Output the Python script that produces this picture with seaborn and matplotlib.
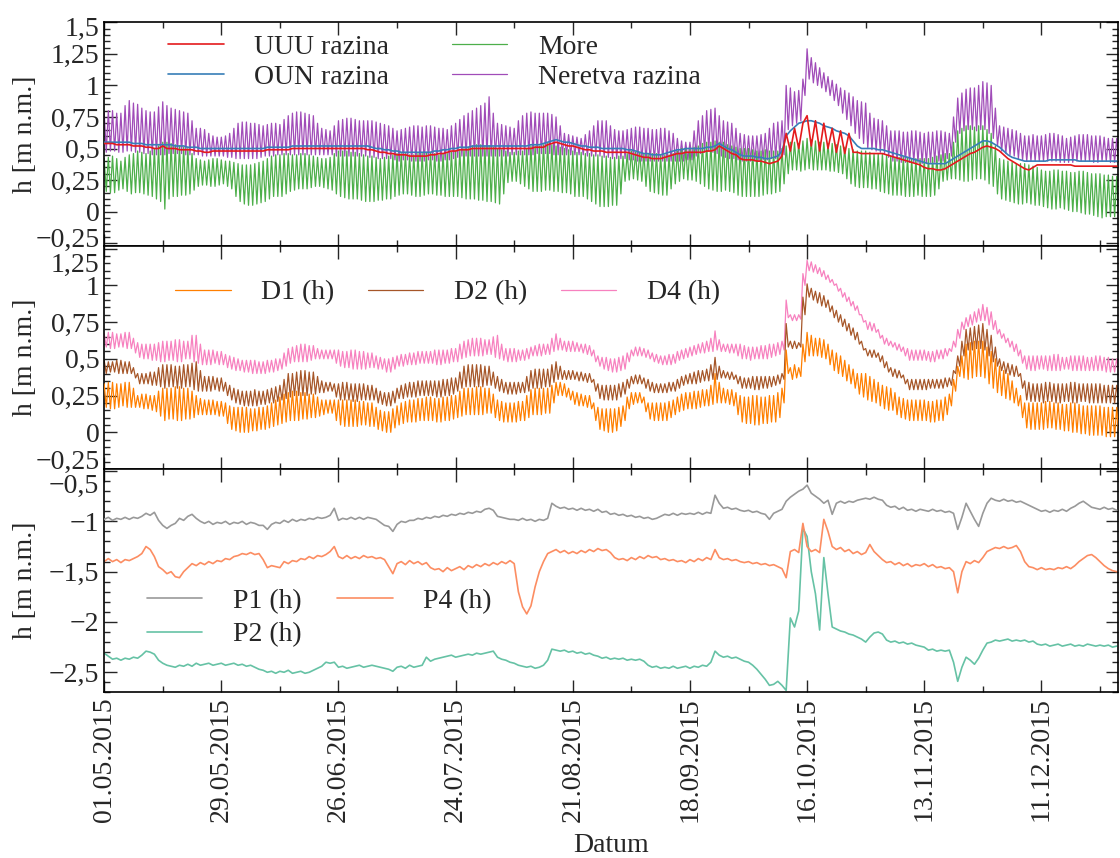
import seaborn as sns
import matplotlib.pyplot as plt
import matplotlib.dates as mdates
import matplotlib.ticker as mticker
from matplotlib.transforms import ScaledTranslation
import pandas as pd

# Vrijednosti u cm, ocitano s grafa, pocetak 01.05.2015.
# uuu, oun, p1, p2, p4: jedna vrijednost dnevno
# more, neretva, d1, d2, d4: vrh/dol svakih 12 h
start = '2015-05-01'

# Gornji graf - razine
uuu = [54, 54, 54, 53, 53, 53, 53, 52, 52, 52, 51, 51, 50, 50,
       52, 50, 50, 50, 49, 49, 49, 49, 48, 48, 47, 47, 48, 48,
       48, 48, 48, 48, 48, 48, 48, 48, 48, 48, 48, 49, 49, 49,
       49, 49, 49, 50, 50, 50, 50, 50, 50, 50, 50, 50, 50, 50,
       50, 50, 50, 50, 50, 50, 50, 49, 49, 48, 47, 47, 46, 46,
       45, 45, 45, 44, 44, 44, 44, 44, 45, 45, 46, 46, 47, 48,
       48, 49, 49, 49, 50, 50, 50, 50, 50, 50, 50, 50, 50, 50,
       50, 50, 50, 50, 50, 51, 51, 51, 53, 54, 55, 54, 53, 52,
       52, 51, 50, 49, 49, 48, 48, 48, 47, 47, 47, 47, 47, 47,
       46, 45, 44, 43, 43, 42, 42, 42, 43, 44, 45, 46, 46, 47,
       47, 47, 47, 47, 48, 48, 49, 52, 50, 48, 46, 45, 42, 41,
       41, 41, 40, 40, 39, 38, 39, 40, 44, 62, 48, 66, 50, 70,
       76, 52, 72, 48, 70, 50, 66, 47, 64, 46, 62, 47, 47, 46,
       46, 46, 46, 46, 46, 45, 44, 43, 42, 41, 40, 39, 38, 37,
       35, 34, 34, 33, 33, 34, 36, 38, 40, 42, 44, 46, 47, 49,
       51, 52, 51, 50, 48, 45, 42, 40, 38, 36, 34, 33, 35, 37,
       37, 37, 37, 37, 37, 37, 37, 37, 36, 36, 36, 36, 36, 36,
       36, 36, 36, 36, 36]
oun = [55, 55, 55, 55, 55, 55, 55, 54, 54, 54, 53, 53, 53, 53,
       53, 53, 53, 52, 52, 52, 51, 51, 51, 50, 50, 50, 50, 50,
       50, 50, 50, 50, 50, 50, 50, 50, 50, 50, 50, 51, 51, 51,
       51, 51, 51, 52, 52, 52, 52, 52, 52, 52, 52, 52, 52, 52,
       52, 52, 52, 52, 52, 52, 52, 52, 51, 50, 50, 49, 49, 48,
       48, 47, 47, 47, 47, 47, 47, 47, 47, 48, 48, 49, 49, 50,
       50, 51, 51, 51, 52, 52, 52, 52, 52, 52, 52, 52, 52, 52,
       52, 52, 52, 52, 53, 53, 53, 54, 55, 56, 57, 56, 55, 55,
       54, 53, 52, 52, 51, 51, 51, 50, 50, 50, 50, 50, 50, 49,
       49, 48, 47, 46, 46, 45, 45, 45, 46, 47, 48, 49, 49, 50,
       50, 50, 50, 50, 51, 51, 52, 54, 52, 50, 49, 47, 45, 44,
       44, 44, 43, 43, 42, 42, 43, 44, 48, 60, 64, 67, 70, 71,
       72, 72, 71, 70, 68, 67, 66, 64, 63, 62, 60, 56, 52, 50,
       50, 50, 50, 49, 49, 48, 47, 46, 45, 44, 43, 42, 41, 40,
       39, 38, 38, 38, 38, 38, 40, 42, 44, 46, 48, 50, 52, 54,
       56, 56, 55, 53, 51, 48, 45, 43, 42, 41, 40, 40, 40, 40,
       40, 40, 41, 41, 41, 41, 41, 41, 41, 40, 40, 40, 40, 40,
       40, 40, 40, 40, 40]
more = [42, 16, 43, 15, 44, 15, 42, 17, 40, 18, 43, 16, 45, 14, 46, 15, 48, 15, 47, 14, 46, 13, 48, 12, 50, 10, 52, 8,
        55, 2, 55, 10, 54, 12, 53, 12, 52, 13, 51, 13, 50, 14, 46, 17, 42, 20, 41, 21, 40, 21, 41, 20, 42, 20, 42, 21,
        41, 22, 40, 20, 40, 18, 39, 12, 38, 8, 37, 6, 37, 5, 37, 5, 38, 6, 39, 7, 40, 8, 42, 10, 44, 12, 45, 12,
        45, 12, 46, 14, 46, 16, 45, 17, 45, 18, 46, 18, 46, 18, 45, 19, 44, 20, 43, 20, 42, 19, 42, 18, 43, 17, 46, 14,
        48, 12, 48, 11, 48, 10, 47, 10, 47, 10, 46, 9, 45, 8, 44, 8, 44, 8, 43, 9, 42, 9, 43, 10, 44, 10, 45, 12,
        46, 13, 46, 14, 46, 14, 45, 13, 45, 12, 46, 12, 46, 13, 47, 14, 47, 14, 46, 13, 45, 13, 46, 12, 46, 12, 47, 12,
        48, 12, 49, 11, 50, 10, 51, 10, 52, 10, 53, 9, 53, 9, 52, 8, 52, 8, 51, 7, 50, 6, 49, 14, 48, 23, 47, 24,
        47, 24, 48, 22, 48, 20, 50, 18, 52, 16, 52, 16, 52, 16, 53, 17, 54, 17, 53, 16, 52, 16, 51, 15, 50, 15, 49, 14,
        48, 12, 47, 12, 47, 12, 46, 10, 46, 8, 45, 6, 45, 4, 44, 4, 44, 4, 43, 5, 43, 5, 44, 14, 44, 24, 46, 25,
        48, 26, 47, 25, 47, 24, 46, 20, 46, 16, 46, 15, 46, 14, 45, 13, 45, 13, 45, 18, 46, 22, 48, 24, 50, 26, 50, 25,
        50, 25, 51, 24, 52, 22, 54, 20, 55, 18, 55, 17, 56, 16, 55, 16, 55, 17, 53, 16, 52, 15, 51, 13, 50, 12, 50, 12,
        50, 12, 49, 12, 48, 12, 48, 13, 49, 14, 48, 14, 48, 15, 48, 16, 50, 22, 52, 30, 55, 33, 55, 33, 54, 32, 56, 33,
        58, 34, 57, 33, 56, 33, 55, 33, 55, 33, 54, 32, 54, 32, 53, 31, 52, 30, 51, 26, 50, 22, 49, 20, 48, 19, 48, 19,
        48, 19, 47, 18, 46, 18, 46, 16, 46, 15, 45, 14, 44, 13, 43, 13, 43, 13, 43, 12, 43, 12, 42, 12, 42, 13, 42, 12,
        42, 12, 42, 12, 43, 13, 44, 18, 45, 24, 46, 25, 46, 26, 55, 26, 64, 25, 66, 24, 68, 24, 68, 25, 67, 26, 68, 26,
        68, 25, 65, 22, 62, 20, 52, 14, 42, 10, 41, 9, 40, 8, 39, 7, 38, 6, 38, 6, 38, 7, 37, 6, 36, 5, 35, 5,
        33, 4, 32, 3, 32, 2, 33, 2, 33, 3, 32, 2, 32, 1, 31, 0, 31, 0, 32, -1, 32, -2, 31, -2, 30, -3, 30, -4,
        30, -5, 29, -4, 29, -4, 28, -4, 28, -5]
neretva = [79, 47, 80, 48, 80, 48, 78, 47, 78, 47, 84, 48, 88, 48, 86, 47, 85, 47, 82, 46, 80, 46, 79, 45, 79, 45, 83, 45,
           87, 45, 84, 46, 82, 46, 81, 46, 80, 46, 79, 45, 78, 45, 72, 45, 66, 45, 66, 44, 65, 44, 62, 44, 60, 44, 59, 44,
           59, 44, 60, 43, 62, 43, 66, 42, 70, 42, 71, 42, 71, 42, 70, 42, 70, 42, 69, 43, 68, 44, 69, 44, 70, 44, 70, 45,
           69, 45, 73, 45, 76, 45, 78, 45, 79, 45, 79, 45, 78, 45, 77, 45, 76, 45, 70, 45, 66, 45, 65, 45, 64, 45, 68, 44,
           72, 44, 73, 44, 74, 44, 74, 44, 73, 44, 72, 44, 72, 44, 72, 43, 72, 43, 71, 42, 70, 42, 69, 42, 68, 42, 66, 41,
           64, 40, 65, 41, 66, 41, 67, 40, 68, 40, 68, 40, 67, 40, 68, 41, 68, 41, 67, 40, 66, 40, 66, 41, 65, 41, 68, 42,
           70, 43, 73, 44, 76, 44, 78, 44, 80, 44, 82, 44, 84, 44, 86, 44, 91, 44, 78, 44, 70, 44, 69, 44, 68, 44, 67, 45,
           66, 45, 72, 45, 76, 45, 78, 45, 79, 45, 78, 46, 78, 46, 78, 46, 78, 46, 77, 45, 75, 45, 68, 45, 62, 45, 61, 45,
           60, 45, 59, 45, 58, 45, 61, 44, 64, 44, 68, 44, 72, 44, 72, 43, 72, 43, 68, 42, 65, 42, 64, 42, 64, 42, 65, 41,
           66, 41, 67, 40, 67, 40, 66, 40, 66, 40, 65, 40, 65, 40, 66, 40, 66, 40, 64, 40, 62, 40, 58, 40, 56, 40, 55, 41,
           55, 41, 64, 44, 72, 46, 76, 47, 80, 48, 81, 47, 82, 46, 76, 44, 72, 43, 71, 42, 70, 42, 66, 41, 62, 40, 61, 40,
           60, 40, 60, 40, 60, 40, 61, 41, 62, 41, 66, 42, 70, 42, 71, 43, 72, 45, 100, 65, 98, 68, 95, 70, 96, 72, 105, 92,
           129, 105, 122, 102, 118, 100, 114, 98, 110, 95, 107, 92, 104, 88, 101, 84, 98, 78, 96, 73, 94, 68, 91, 62, 88, 58, 87, 54,
           86, 50, 78, 49, 74, 48, 73, 47, 72, 46, 68, 43, 64, 40, 64, 40, 64, 39, 63, 39, 63, 39, 64, 39, 64, 39, 63, 38,
           62, 38, 63, 39, 63, 39, 64, 40, 64, 40, 63, 42, 62, 44, 75, 55, 90, 62, 94, 64, 97, 65, 98, 65, 98, 64, 100, 65,
           103, 65, 102, 62, 100, 58, 82, 52, 68, 48, 67, 46, 66, 45, 65, 44, 64, 42, 62, 41, 60, 40, 60, 40, 61, 40, 60, 40,
           60, 40, 61, 40, 62, 40, 62, 40, 61, 39, 60, 39, 58, 39, 59, 39, 60, 40, 61, 40, 61, 40, 61, 40, 60, 39, 60, 39,
           60, 40, 59, 40, 58, 39, 58, 39, 58, 39]

# Srednji graf - D piezometri
d1 = [33, 17, 34, 16, 34, 16, 33, 17, 33, 18, 34, 17, 34, 17, 30, 17, 25, 17, 26, 16, 26, 16, 25, 15, 25, 14, 28, 11,
      30, 8, 30, 9, 30, 9, 31, 8, 31, 8, 30, 9, 30, 9, 28, 10, 25, 12, 23, 12, 22, 12, 22, 12, 22, 12, 21, 11,
      21, 11, 20, 6, 18, 2, 17, 1, 17, 0, 17, 0, 17, 0, 16, 1, 16, 1, 17, 2, 17, 2, 18, 3, 20, 4, 22, 5,
      24, 6, 26, 7, 27, 8, 28, 8, 28, 8, 27, 9, 27, 9, 26, 10, 26, 10, 24, 11, 22, 12, 22, 13, 22, 13, 22, 8,
      22, 5, 22, 4, 22, 4, 22, 4, 22, 4, 21, 5, 21, 5, 20, 4, 20, 4, 17, 2, 15, 1, 14, 0, 14, 0, 16, 3,
      18, 5, 20, 6, 21, 7, 22, 7, 22, 7, 23, 8, 23, 8, 24, 8, 24, 8, 23, 7, 23, 7, 24, 8, 24, 8, 25, 9,
      25, 10, 28, 11, 30, 12, 30, 12, 30, 12, 31, 12, 31, 12, 30, 13, 30, 13, 26, 10, 22, 8, 21, 7, 20, 7, 20, 7,
      20, 7, 21, 8, 21, 8, 25, 10, 29, 12, 30, 12, 30, 12, 30, 13, 30, 13, 32, 20, 34, 25, 34, 25, 33, 24, 30, 22,
      28, 19, 27, 18, 26, 18, 25, 17, 25, 16, 20, 8, 17, 2, 16, 1, 16, 0, 16, 0, 16, 1, 17, 4, 18, 8, 24, 16,
      27, 19, 27, 20, 27, 20, 24, 14, 20, 9, 20, 8, 20, 8, 20, 8, 20, 8, 21, 10, 22, 12, 24, 14, 26, 15, 27, 16,
      27, 16, 28, 16, 28, 17, 29, 18, 29, 18, 32, 19, 40, 20, 34, 20, 30, 20, 29, 19, 29, 18, 27, 12, 25, 7, 24, 6,
      24, 6, 25, 5, 25, 5, 24, 6, 24, 6, 25, 7, 25, 7, 27, 10, 30, 20, 56, 40, 44, 36, 46, 37, 44, 38, 60, 48,
      68, 52, 66, 52, 64, 52, 64, 51, 63, 50, 60, 46, 56, 42, 54, 40, 52, 38, 49, 35, 46, 33, 43, 30, 40, 26, 40, 24,
      40, 22, 38, 21, 36, 20, 34, 18, 32, 16, 31, 15, 30, 15, 27, 12, 24, 10, 23, 9, 22, 8, 22, 8, 22, 8, 22, 8,
      22, 8, 21, 7, 21, 7, 22, 8, 22, 8, 24, 12, 26, 18, 36, 28, 45, 38, 52, 37, 60, 36, 61, 37, 62, 38, 62, 38,
      62, 37, 58, 33, 55, 30, 50, 27, 45, 25, 42, 23, 40, 22, 35, 20, 30, 18, 25, 10, 20, 3, 20, 2, 20, 2, 20, 2,
      20, 2, 21, 3, 21, 3, 20, 2, 20, 2, 19, 1, 19, 1, 20, 0, 20, 0, 19, -1, 18, -1, 18, -2, 18, -2, 18, -2,
      18, -2, 17, -3, 17, -3, 17, -3, 17, -2]
d2 = [49, 40, 48, 41, 48, 41, 49, 40, 49, 40, 48, 40, 48, 40, 44, 37, 40, 33, 40, 33, 40, 33, 41, 32, 41, 32, 44, 31,
      46, 30, 46, 31, 46, 31, 45, 30, 45, 30, 46, 31, 46, 31, 47, 29, 48, 28, 42, 28, 38, 28, 38, 28, 38, 29, 37, 28,
      37, 28, 34, 25, 32, 22, 30, 20, 29, 19, 28, 18, 28, 18, 28, 18, 29, 18, 28, 19, 28, 19, 29, 20, 30, 20, 31, 21,
      32, 22, 36, 23, 40, 24, 40, 25, 41, 25, 42, 25, 42, 25, 41, 26, 41, 26, 38, 27, 35, 27, 34, 28, 34, 28, 33, 24,
      33, 22, 34, 22, 34, 22, 33, 21, 33, 21, 33, 22, 33, 22, 32, 22, 32, 22, 30, 20, 28, 19, 27, 18, 27, 18, 28, 20,
      30, 23, 32, 23, 33, 24, 34, 24, 34, 24, 35, 25, 35, 25, 35, 25, 35, 25, 35, 24, 35, 24, 36, 25, 36, 25, 37, 26,
      37, 28, 41, 30, 45, 31, 46, 31, 46, 31, 46, 31, 46, 31, 45, 32, 45, 32, 41, 30, 38, 28, 36, 27, 34, 26, 34, 26,
      34, 26, 34, 27, 34, 27, 38, 28, 42, 30, 43, 30, 43, 30, 43, 31, 43, 31, 46, 34, 48, 36, 45, 36, 42, 36, 42, 36,
      42, 36, 41, 35, 41, 35, 40, 34, 40, 34, 36, 28, 33, 23, 32, 22, 32, 22, 32, 22, 32, 22, 33, 24, 34, 26, 36, 30,
      38, 33, 39, 33, 39, 33, 37, 30, 36, 28, 34, 27, 33, 27, 33, 27, 33, 27, 34, 28, 34, 28, 36, 30, 38, 32, 39, 33,
      40, 33, 41, 33, 42, 34, 42, 35, 43, 35, 46, 36, 51, 36, 45, 37, 42, 37, 41, 36, 41, 36, 39, 33, 38, 30, 37, 30,
      37, 30, 38, 29, 38, 29, 38, 30, 38, 30, 38, 31, 38, 32, 39, 33, 40, 36, 74, 58, 62, 57, 62, 57, 61, 58, 92, 80,
      101, 92, 98, 90, 96, 88, 95, 86, 93, 85, 90, 82, 86, 78, 83, 75, 80, 72, 77, 69, 74, 66, 71, 63, 68, 60, 62, 56,
      57, 52, 56, 51, 56, 51, 54, 48, 52, 44, 48, 41, 44, 38, 43, 37, 42, 37, 39, 33, 36, 29, 36, 29, 36, 29, 36, 29,
      36, 29, 36, 30, 36, 30, 36, 30, 36, 30, 37, 31, 37, 32, 42, 40, 52, 45, 62, 52, 70, 56, 71, 56, 72, 57, 73, 57,
      74, 56, 70, 52, 66, 48, 58, 45, 50, 42, 48, 40, 47, 39, 46, 38, 45, 38, 40, 30, 35, 22, 34, 21, 33, 21, 33, 21,
      33, 20, 34, 21, 34, 21, 33, 20, 33, 20, 33, 21, 33, 21, 34, 20, 34, 20, 33, 21, 33, 21, 33, 20, 33, 20, 33, 20,
      33, 20, 32, 20, 32, 20, 32, 20, 32, 20]
d4 = [67, 58, 68, 57, 68, 57, 67, 58, 67, 58, 68, 57, 68, 57, 64, 54, 61, 51, 60, 50, 60, 50, 60, 49, 60, 49, 61, 48,
      62, 48, 62, 49, 62, 49, 63, 48, 63, 48, 62, 50, 62, 50, 66, 48, 66, 47, 60, 46, 56, 46, 56, 46, 56, 47, 55, 46,
      55, 46, 53, 44, 52, 43, 51, 42, 50, 42, 49, 41, 49, 41, 49, 40, 49, 40, 48, 40, 48, 40, 49, 41, 49, 41, 50, 42,
      50, 43, 54, 45, 57, 47, 58, 48, 59, 48, 60, 48, 60, 48, 59, 49, 59, 50, 57, 50, 56, 50, 56, 50, 56, 50, 56, 47,
      56, 45, 55, 44, 55, 44, 56, 43, 56, 43, 55, 43, 55, 43, 54, 44, 54, 44, 52, 43, 51, 43, 50, 41, 50, 41, 51, 43,
      52, 45, 53, 45, 53, 46, 54, 46, 54, 46, 55, 47, 55, 47, 55, 47, 55, 47, 56, 46, 56, 46, 56, 47, 56, 47, 57, 48,
      57, 48, 60, 50, 62, 51, 63, 52, 64, 52, 64, 52, 64, 52, 63, 53, 63, 53, 65, 51, 66, 50, 60, 49, 57, 48, 57, 48,
      57, 48, 56, 49, 56, 49, 57, 50, 58, 52, 59, 52, 60, 52, 60, 53, 60, 53, 64, 55, 67, 56, 64, 56, 62, 55, 62, 55,
      62, 55, 61, 55, 60, 54, 60, 53, 59, 52, 56, 48, 52, 45, 51, 43, 51, 42, 50, 41, 50, 41, 51, 42, 52, 43, 54, 48,
      56, 52, 58, 52, 58, 52, 57, 51, 56, 50, 54, 48, 53, 47, 52, 46, 52, 46, 53, 46, 53, 47, 55, 49, 56, 50, 57, 51,
      58, 52, 59, 53, 60, 54, 61, 54, 62, 55, 64, 55, 69, 56, 63, 55, 60, 55, 60, 54, 60, 54, 60, 52, 60, 50, 59, 50,
      58, 49, 58, 50, 58, 50, 59, 50, 59, 50, 60, 51, 60, 52, 61, 53, 62, 56, 90, 78, 80, 76, 80, 76, 80, 77, 108, 100,
      117, 110, 116, 109, 114, 108, 112, 106, 110, 104, 107, 102, 104, 100, 101, 96, 98, 92, 95, 89, 92, 86, 89, 83, 86, 80, 80, 75,
      76, 70, 75, 69, 74, 68, 70, 64, 66, 60, 64, 59, 62, 58, 61, 56, 60, 55, 58, 52, 57, 49, 56, 49, 56, 49, 56, 49,
      56, 49, 55, 48, 55, 48, 56, 50, 56, 50, 57, 52, 57, 55, 62, 58, 70, 64, 75, 70, 78, 72, 80, 73, 82, 75, 84, 76,
      87, 76, 85, 73, 82, 70, 76, 67, 70, 64, 67, 61, 64, 58, 62, 55, 60, 52, 56, 47, 52, 43, 52, 42, 52, 42, 52, 43,
      52, 43, 52, 42, 52, 42, 53, 42, 53, 42, 51, 43, 51, 43, 52, 42, 52, 42, 52, 42, 52, 42, 51, 42, 51, 42, 52, 42,
      52, 42, 51, 41, 51, 41, 50, 41, 50, 42]

# Donji graf - P piezometri
p1 = [-98, -96, -99, -97, -98, -96, -98, -96, -97, -95, -92, -94, -91, -99,
      -104, -107, -104, -102, -97, -99, -95, -93, -97, -100, -102, -100, -103, -101,
      -102, -100, -103, -101, -102, -100, -103, -101, -102, -104, -104, -108, -103, -101,
      -102, -99, -101, -98, -100, -98, -99, -97, -98, -96, -97, -96, -94, -87,
      -99, -97, -98, -96, -98, -96, -98, -96, -97, -98, -101, -104, -105, -110,
      -103, -100, -101, -99, -99, -97, -98, -96, -97, -95, -96, -94, -95, -93,
      -94, -92, -93, -91, -92, -90, -91, -88, -87, -89, -95, -96, -97, -98,
      -98, -99, -97, -99, -98, -100, -98, -99, -97, -82, -85, -87, -86, -88,
      -87, -89, -87, -89, -88, -90, -88, -91, -90, -93, -92, -94, -93, -95,
      -94, -96, -95, -97, -96, -98, -97, -95, -93, -94, -92, -94, -92, -93,
      -92, -93, -91, -93, -91, -92, -74, -82, -87, -86, -88, -87, -89, -90,
      -89, -91, -90, -92, -93, -98, -92, -90, -88, -80, -76, -73, -70, -68,
      -64, -72, -75, -78, -82, -79, -93, -82, -80, -82, -80, -81, -79, -78,
      -77, -78, -76, -78, -79, -84, -86, -85, -88, -86, -89, -88, -90, -88,
      -89, -90, -88, -90, -89, -91, -90, -92, -108, -96, -82, -90, -98, -105,
      -92, -82, -77, -79, -80, -78, -80, -79, -81, -80, -82, -84, -86, -88,
      -90, -89, -91, -89, -90, -88, -90, -87, -85, -82, -80, -83, -86, -87,
      -88, -86, -88, -87, -89]
p2 = [-231, -234, -237, -236, -238, -236, -237, -235, -236, -233, -229, -230, -232, -238,
      -241, -243, -244, -245, -243, -244, -242, -244, -241, -243, -242, -241, -243, -242,
      -241, -243, -242, -241, -243, -242, -244, -243, -245, -247, -248, -250, -249, -251,
      -249, -250, -248, -251, -250, -249, -251, -250, -248, -246, -244, -240, -241, -240,
      -245, -244, -246, -245, -244, -243, -245, -244, -243, -244, -245, -246, -247, -249,
      -245, -244, -246, -243, -245, -244, -243, -235, -239, -237, -236, -235, -234, -233,
      -235, -234, -233, -232, -233, -231, -232, -231, -230, -229, -235, -237, -238, -240,
      -241, -243, -244, -245, -244, -246, -245, -243, -238, -227, -228, -229, -228, -230,
      -229, -231, -230, -232, -231, -233, -234, -236, -235, -237, -236, -237, -236, -238,
      -237, -238, -237, -239, -243, -245, -244, -246, -245, -246, -244, -246, -245, -244,
      -246, -244, -245, -243, -244, -240, -229, -233, -235, -234, -236, -235, -237, -239,
      -240, -243, -247, -252, -257, -263, -262, -259, -263, -268, -196, -205, -189, -107,
      -115, -150, -172, -208, -136, -172, -205, -207, -209, -210, -212, -213, -215, -217,
      -220, -215, -211, -210, -212, -218, -220, -219, -221, -220, -222, -221, -223, -224,
      -225, -228, -227, -229, -228, -229, -228, -240, -259, -245, -235, -238, -242, -236,
      -228, -221, -220, -218, -219, -218, -217, -219, -218, -219, -218, -220, -219, -222,
      -223, -222, -224, -223, -222, -224, -223, -222, -224, -223, -224, -222, -223, -224,
      -223, -224, -223, -225, -224]
p4 = [-140, -137, -140, -138, -141, -138, -139, -137, -135, -132, -125, -128, -135, -145,
      -148, -152, -150, -155, -156, -150, -146, -142, -144, -141, -143, -140, -142, -139,
      -140, -137, -138, -135, -134, -132, -133, -131, -133, -132, -138, -146, -144, -145,
      -146, -140, -142, -139, -140, -137, -138, -135, -137, -134, -135, -133, -130, -125,
      -135, -137, -134, -137, -135, -137, -134, -136, -135, -137, -136, -138, -145, -152,
      -142, -140, -143, -139, -142, -140, -143, -141, -146, -148, -147, -150, -146, -149,
      -147, -145, -148, -144, -146, -143, -145, -142, -144, -141, -143, -140, -142, -139,
      -142, -170, -185, -192, -184, -165, -150, -140, -132, -130, -128, -131, -129, -132,
      -130, -132, -129, -131, -128, -130, -127, -129, -128, -131, -136, -138, -137, -139,
      -136, -138, -135, -137, -134, -136, -135, -138, -137, -139, -138, -140, -139, -141,
      -138, -140, -137, -139, -136, -138, -128, -136, -138, -137, -139, -138, -140, -141,
      -140, -142, -141, -143, -142, -144, -143, -145, -147, -156, -130, -128, -131, -102,
      -125, -130, -128, -131, -98, -110, -125, -128, -126, -130, -128, -132, -130, -133,
      -131, -123, -130, -134, -138, -141, -140, -143, -141, -144, -142, -145, -143, -144,
      -142, -145, -143, -146, -145, -147, -146, -150, -171, -150, -140, -142, -139, -141,
      -136, -130, -128, -126, -127, -125, -127, -126, -124, -130, -140, -145, -146, -148,
      -146, -148, -147, -148, -146, -147, -145, -147, -144, -140, -137, -134, -133, -136,
      -140, -144, -147, -149, -150]

tick_dates = pd.date_range(start, periods=9, freq='28D')
minor_dates = pd.date_range(start, periods=18, freq='14D')


def vrijeme(v, korak='D'):
    return pd.date_range(start, periods=len(v), freq=korak)


def metri(v):
    return [x / 100 for x in v]


def zarez(v, pos):
    v = round(v, 2)
    if abs(v) < 1e-9:
        v = 0
    return f'{v:g}'.replace('.', ',').replace('-', '\u2212')


sns.set_style('ticks')
plt.rcParams['font.family'] = ['Liberation Serif', 'DejaVu Serif']

fig, axes = plt.subplots(3, 1, figsize=(11.2, 8.58), dpi=100, sharex=True)
fig.subplots_adjust(left=0.093, right=0.998, top=0.974, bottom=0.193, hspace=0)
ax0, ax1, ax2 = axes

# Gornji graf
sns.lineplot(x=vrijeme(neretva, '12h'), y=metri(neretva), ax=ax0, color='#a04cb8', lw=0.9, label='Neretva razina', zorder=1)
sns.lineplot(x=vrijeme(more, '12h'), y=metri(more), ax=ax0, color='#4daf4a', lw=0.9, label='More', zorder=2)
sns.lineplot(x=vrijeme(oun), y=metri(oun), ax=ax0, color='#377eb8', lw=1.2, label='OUN razina', zorder=3)
sns.lineplot(x=vrijeme(uuu), y=metri(uuu), ax=ax0, color='#e41a1c', lw=1.2, label='UUU razina', zorder=4)
ax0.set_ylim(-0.27, 1.5)
ax0.yaxis.set_major_locator(mticker.MultipleLocator(0.25))
red0 = ['UUU razina', 'OUN razina', 'More', 'Neretva razina']

# Srednji graf
sns.lineplot(x=vrijeme(d4, '12h'), y=metri(d4), ax=ax1, color='#f781bf', lw=0.9, label='D4 (h)', zorder=1)
sns.lineplot(x=vrijeme(d2, '12h'), y=metri(d2), ax=ax1, color='#a65628', lw=0.9, label='D2 (h)', zorder=2)
sns.lineplot(x=vrijeme(d1, '12h'), y=metri(d1), ax=ax1, color='#ff7f00', lw=0.9, label='D1 (h)', zorder=3)
ax1.set_ylim(-0.25, 1.27)
ax1.yaxis.set_major_locator(mticker.MultipleLocator(0.25))
red1 = ['D1 (h)', 'D2 (h)', 'D4 (h)']

# Donji graf
sns.lineplot(x=vrijeme(p2), y=metri(p2), ax=ax2, color='#66c2a5', lw=1.2, label='P2 (h)', zorder=1)
sns.lineplot(x=vrijeme(p4), y=metri(p4), ax=ax2, color='#fc8d62', lw=1.2, label='P4 (h)', zorder=2)
sns.lineplot(x=vrijeme(p1), y=metri(p1), ax=ax2, color='#999999', lw=1.2, label='P1 (h)', zorder=3)
ax2.set_ylim(-2.7, -0.48)
ax2.yaxis.set_major_locator(mticker.MultipleLocator(0.5))
red2 = ['P1 (h)', 'P2 (h)', 'P4 (h)']

legende = [
    (ax0, red0, 2, (0.063, 0.947), 0.17, 2.25),
    (ax1, red1, 3, (0.07, 0.847), 0.1, 1.2),
    (ax2, red2, 2, (0.042, 0.464), 0.28, 1.28),
]
for ax, red, ncol, pos, ls, cs in legende:
    h, l = ax.get_legend_handles_labels()
    hmap = dict(zip(l, h))
    ax.legend([hmap[k] for k in red], red, loc='upper left', bbox_to_anchor=pos, ncol=ncol,
              frameon=False, fontsize=20, handlelength=2.0, handletextpad=1.1,
              columnspacing=cs, labelspacing=ls, borderpad=0, borderaxespad=0)

for ax in axes:
    ax.set_xlim(pd.Timestamp('2015-05-01'), pd.Timestamp('2015-12-29 06:00'))
    ax.xaxis.set_major_locator(mticker.FixedLocator(mdates.date2num(tick_dates)))
    ax.xaxis.set_minor_locator(mticker.FixedLocator(mdates.date2num(minor_dates)))
    ax.xaxis.set_major_formatter(mdates.DateFormatter('%d.%m.%Y'))
    ax.yaxis.set_minor_locator(mticker.AutoMinorLocator(5))
    ax.yaxis.set_major_formatter(mticker.FuncFormatter(zarez))
    ax.tick_params(which='both', direction='in', top=True, right=True, labelsize=20, width=1.0)
    ax.tick_params(which='major', length=9)
    ax.tick_params(which='minor', length=4.5)
    for s in ax.spines.values():
        s.set_linewidth(1.2)
        s.set_color('black')
    ax.set_ylabel('h [m n.m.]', fontsize=20)
    ax.yaxis.set_label_coords(-0.065, 0.5)
    ax.set_xlabel('')

plt.setp(ax2.get_xticklabels(), rotation=90)
ax2.set_xlabel('Datum', fontsize=20, labelpad=8)

# rubne oznake na y osi malo pomaknuti prema unutra (u px, + je gore)
fig.canvas.draw()
pomaci = [
    (ax0, {1.5: -4, -0.25: 6}),
    (ax1, {1.25: -14, -0.25: 10}),
    (ax2, {-0.5: -12}),
]
for ax, pm in pomaci:
    for t in ax.yaxis.get_major_ticks():
        for v, px in pm.items():
            if abs(t.get_loc() - v) < 1e-6:
                lab = t.label1
                lab.set_transform(lab.get_transform() + ScaledTranslation(0, px / 100, fig.dpi_scale_trans))

plt.savefig('out.png', dpi=100)
